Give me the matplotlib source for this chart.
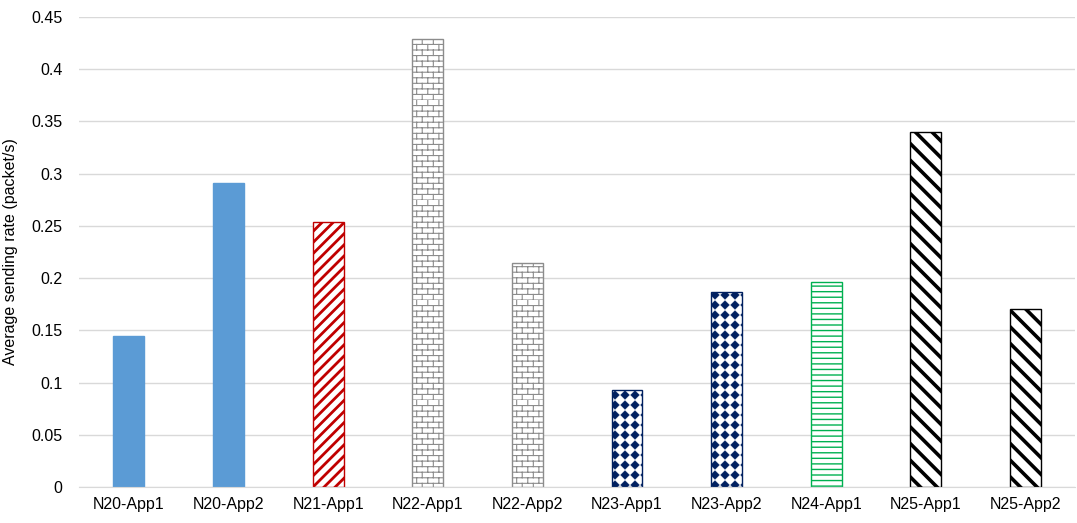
import warnings
import matplotlib
matplotlib.use('Agg')
import matplotlib.pyplot as plt
from matplotlib import hatch as mhatch
from matplotlib.path import Path

warnings.filterwarnings('ignore')

labels = ['N20-App1', 'N20-App2', 'N21-App1', 'N22-App1', 'N22-App2',
          'N23-App1', 'N23-App2', 'N24-App1', 'N25-App1', 'N25-App2']
values = [0.145, 0.291, 0.254, 0.429, 0.214, 0.093, 0.187, 0.196, 0.340, 0.170]
y_ticks = [0, 0.05, 0.1, 0.15, 0.2, 0.25, 0.3, 0.35, 0.4, 0.45]

# styles per bar
face_colors = ['#5B9BD5', '#5B9BD5', 'white', 'white', 'white',
               'white', 'white', 'white', 'white', 'white']
edge_colors = ['#5B9BD5', '#5B9BD5', '#C00000', '#8C8C8C', '#8C8C8C',
               '#002060', '#002060', '#00B050', '#000000', '#000000']
hatches = ['', '', '///', 'bbb', 'bbb', 'dd', 'dd', '---', '\\\\', '\\\\']
hatch_lw = [1.0, 1.0, 2.0, 0.8, 0.8, 0.5, 0.5, 1.0, 2.6, 2.6]


class BrickHatch(mhatch.HatchPatternBase):
    """brick wall pattern, one 'b' = density rows per inch"""
    def __init__(self, hatch, density):
        self.rows = hatch.count('b') * density
        self.cols = self.rows // 2
        self.num_vertices = self.rows * 2 + self.rows * self.cols * 2

    def set_vertices_and_codes(self, vertices, codes):
        k = 0
        for i in range(self.rows):
            y0, y1 = i / self.rows, (i + 1) / self.rows
            vertices[k] = (0, y0); vertices[k + 1] = (1, y0)
            codes[k] = Path.MOVETO; codes[k + 1] = Path.LINETO
            k += 2
            off = 0.5 / self.cols if i % 2 else 0.0
            for j in range(self.cols):
                x = j / self.cols + off
                vertices[k] = (x, y0); vertices[k + 1] = (x, y1)
                codes[k] = Path.MOVETO; codes[k + 1] = Path.LINETO
                k += 2


class DiamondHatch(mhatch.HatchPatternBase):
    """grid of filled diamonds, 5 per inch for each 'd'"""
    def __init__(self, hatch, density):
        self.n = hatch.count('d') * 5
        self.num_vertices = self.n * self.n * 5

    def set_vertices_and_codes(self, vertices, codes):
        r = 0.42 / self.n
        k = 0
        for i in range(self.n):
            for j in range(self.n):
                cx, cy = (j + 0.5) / self.n, (i + 0.5) / self.n
                vertices[k:k + 5] = [(cx, cy + r), (cx + r, cy), (cx, cy - r),
                                     (cx - r, cy), (cx, cy + r)]
                codes[k:k + 5] = [Path.MOVETO, Path.LINETO, Path.LINETO,
                                  Path.LINETO, Path.CLOSEPOLY]
                k += 5


mhatch._hatch_types.extend([BrickHatch, DiamondHatch])

plt.rcParams['font.family'] = ['Liberation Sans', 'DejaVu Sans']
plt.rcParams['font.size'] = 11.5

fig = plt.figure(figsize=(10.77, 5.23), dpi=100)
ax = fig.add_axes([0.0734, 0.0688, 0.925, 0.8987])

x = range(len(labels))
for i in x:
    with plt.rc_context({'hatch.linewidth': hatch_lw[i]}):
        b = ax.bar(i, values[i], width=0.31, color=face_colors[i],
                   edgecolor=edge_colors[i], hatch=hatches[i] or None,
                   linewidth=1.0, zorder=2)
    if hasattr(b[0], 'set_hatch_linewidth'):
        b[0].set_hatch_linewidth(hatch_lw[i])

ax.set_xlim(-0.5, len(labels) - 0.5)
ax.set_ylim(0, 0.45)
ax.set_yticks(y_ticks)
ax.set_yticklabels([f'{v:g}' for v in y_ticks], color='#000000')
ax.set_xticks(list(x))
ax.set_xticklabels(labels)
ax.tick_params(axis='y', length=0, pad=12)
ax.tick_params(axis='x', length=0, pad=7)

ax.grid(axis='y', color='#D9D9D9', linewidth=1)
ax.set_axisbelow(True)
for s in ['top', 'right', 'left']:
    ax.spines[s].set_visible(False)
ax.spines['bottom'].set_color('#D9D9D9')

ax.set_ylabel('Average sending rate (packet/s)')
ax.yaxis.set_label_coords(-0.061, 0.5)

fig.savefig('out.png', dpi=100)
